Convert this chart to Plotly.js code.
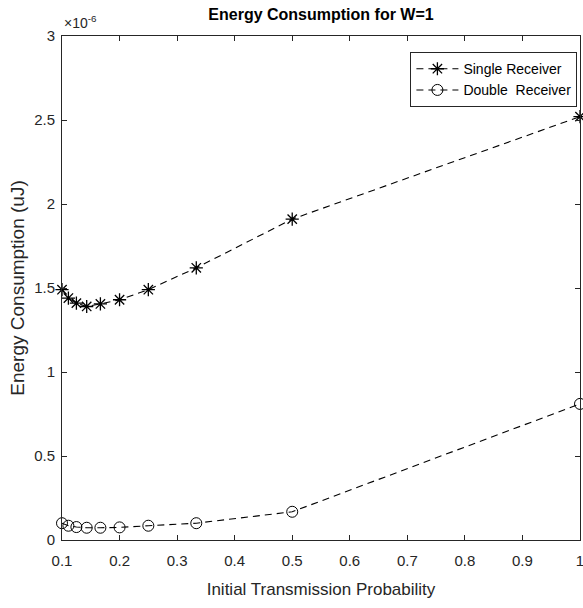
<!DOCTYPE html>
<html>
<head>
<meta charset="utf-8">
<script src="https://cdn.plot.ly/plotly-3.0.1.min.js"></script>
<style>html,body{margin:0;padding:0;background:#fff;}#chart{width:583px;height:608px;}</style>
</head>
<body>
<div id="chart"></div>
<script>
// Initial transmission probability p = 1/10 ... 1
const probability = [0.1, 0.1111, 0.125, 0.1429, 0.1667, 0.2, 0.25, 0.3333, 0.5, 1.0];
// Energy consumption in units of 1e-6 uJ
const singleReceiver = [1.49, 1.44, 1.41, 1.39, 1.405, 1.43, 1.49, 1.62, 1.91, 2.52];
const doubleReceiver = [0.10, 0.085, 0.077, 0.073, 0.073, 0.075, 0.085, 0.10, 0.168, 0.81];
const seriesNames = ['Single Receiver', 'Double  Receiver'];
const xTicks = [0.1, 0.2, 0.3, 0.4, 0.5, 0.6, 0.7, 0.8, 0.9, 1];
const xTickText = ['0.1', '0.2', '0.3', '0.4', '0.5', '0.6', '0.7', '0.8', '0.9', '1'];
const yTicks = [0, 0.5, 1, 1.5, 2, 2.5, 3];
const yTickText = ['0', '0.5', '1', '1.5', '2', '2.5', '3'];

const regular = '"Liberation Sans", Arial, sans-serif';
const lineStyle = {color: '#000', width: 1.1, dash: '7px,5px'};

const traces = [
  {x: probability, y: singleReceiver, name: seriesNames[0], type: 'scatter', mode: 'lines+markers',
   cliponaxis: false, line: lineStyle,
   marker: {symbol: 'asterisk-open', size: 11, color: '#000', line: {color: '#000', width: 1.3}}},
  {x: probability, y: doubleReceiver, name: seriesNames[1], type: 'scatter', mode: 'lines+markers',
   cliponaxis: false, line: lineStyle,
   marker: {symbol: 'circle-open', size: 11, color: '#000', line: {color: '#000', width: 1}}}
];

const axisCommon = {
  showgrid: false, zeroline: false, showline: true, linecolor: '#262626', linewidth: 1,
  mirror: 'allticks', ticks: 'inside', ticklen: 5, tickcolor: '#262626',
  ticklabeloverflow: 'allow',
  tickfont: {family: regular, size: 15, color: '#262626'}
};

const layout = {
  width: 583, height: 608,
  margin: {l: 62, r: 3, t: 36, b: 68},
  paper_bgcolor: '#fff', plot_bgcolor: '#fff',
  showlegend: true,
  title: {text: '<b>Energy Consumption for W=1</b>', font: {family: regular, size: 16, color: '#000'},
          x: 0.5, xanchor: 'center', xref: 'paper', y: 0.977, yanchor: 'middle', yref: 'container'},
  xaxis: Object.assign({}, axisCommon, {
    range: [0.1, 1], tickvals: xTicks, ticktext: xTickText, ticklabelstandoff: 7,
    title: {text: 'Initial Transmission Probability', font: {family: regular, size: 17, color: '#262626'}, standoff: 15}
  }),
  yaxis: Object.assign({}, axisCommon, {
    range: [0, 3], tickvals: yTicks, ticktext: yTickText, ticklabelstandoff: 3,
    title: {text: 'Energy Consumption (uJ)', font: {family: regular, size: 19, color: '#262626'}, standoff: 4}
  }),
  legend: {x: 0.995, xanchor: 'right', y: 0.968, yanchor: 'top', bgcolor: '#fff',
           bordercolor: '#262626', borderwidth: 1, font: {family: regular, size: 14, color: '#000'},
           tracegroupgap: 4, itemwidth: 42, entrywidth: 188, entrywidthmode: 'pixels'},
  annotations: [{text: '×10<sup>-6</sup>', xref: 'paper', yref: 'paper', x: 0, y: 1, xanchor: 'left', yanchor: 'bottom',
                 showarrow: false, font: {family: regular, size: 14, color: '#262626'}, yshift: 3}]
};

Plotly.newPlot('chart', traces, layout, {displayModeBar: false, staticPlot: true});
</script>
</body>
</html>
